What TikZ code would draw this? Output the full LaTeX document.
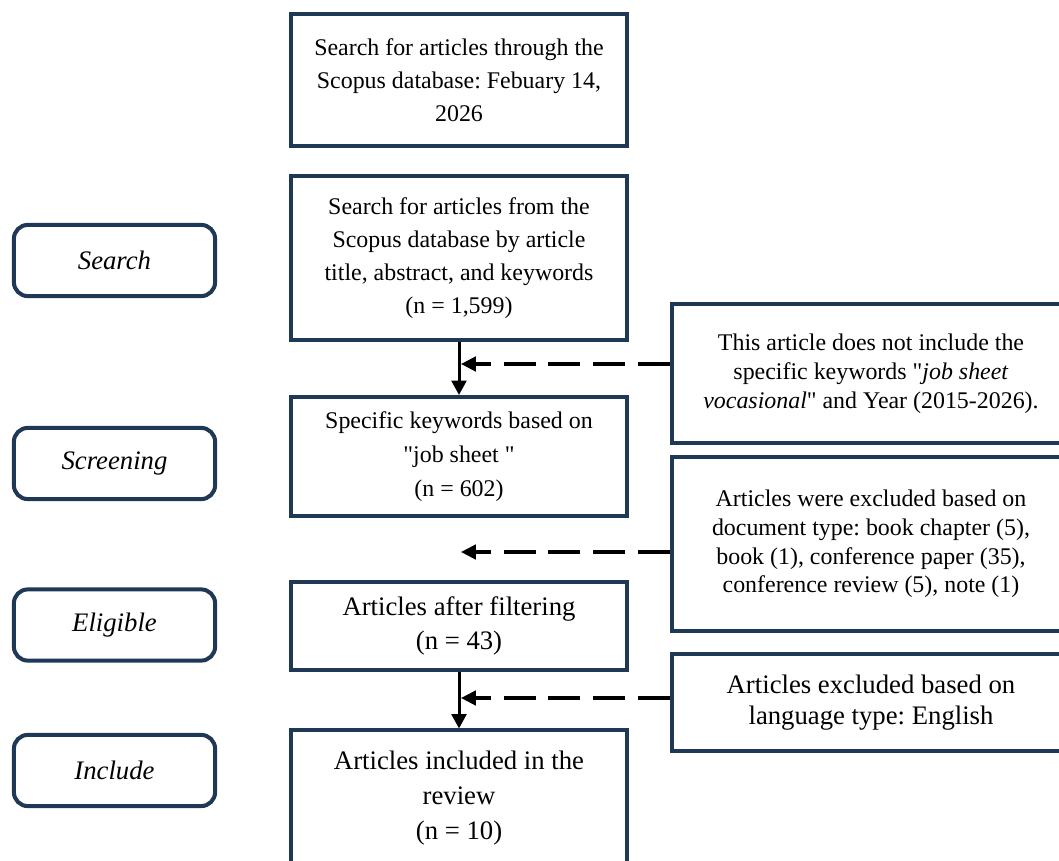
\documentclass[tikz,border=0pt]{standalone}
\usepackage{fontspec}
\setmainfont{Liberation Serif}
\usepackage{xcolor}
\usetikzlibrary{arrows.meta, positioning}
\definecolor{navy}{RGB}{31,56,86}
\frenchspacing
\tikzset{
  mainbox/.style={draw=navy, line width=0.1cm, fill=white,
                  minimum width=8.4cm, align=center,
                  font=\fontsize{17}{23.5}\selectfont},
  phase/.style={draw=navy, line width=0.1cm, fill=white, rounded corners=0.35cm,
                minimum width=5.03cm, minimum height=1.78cm, align=center,
                font=\fontsize{19}{24}\selectfont\itshape},
  note/.style={draw=navy, line width=0.1cm, fill=white,
               minimum width=9.95cm, align=center,
               font=\fontsize{17}{20.5}\selectfont},
  flow/.style={-{Triangle[length=0.36cm, width=0.37cm]}, line width=0.075cm},
  skip/.style={-{Triangle[length=0.37cm, width=0.36cm]}, line width=0.08cm,
               dash pattern=on 0.8cm off 0.32cm}
}

\begin{document}
\begin{tikzpicture}[x=0.025cm, y=-0.025cm]
  \useasboundingbox (0,0) rectangle (1059,861);
  \clip (0,0) rectangle (1059,861);

  % Phases
  \node[phase] (psearch) at (114.5,260.5) {Search};
  \node[phase] (pscreen) at (114.5,463.5) {Screening};
  \node[phase] (pelig) at (114.5,625) {Eligible};
  \node[phase] (pincl) at (114.5,770.5) {Include};

  % Main flow
  \node[mainbox, minimum height=3.3cm] (db) at (459,80)
    {Search for articles through the\\Scopus database: Febuary 14,\\2026};
  \node[mainbox, minimum height=4.1cm] (found) at (459,258)
    {Search for articles from the\\Scopus database by article\\title, abstract, and keywords\\(n = 1,599)};
  \node[mainbox, minimum height=2.975cm, font=\fontsize{17}{24}\selectfont] (kw) at (459,456.5)
    {Specific keywords based on\\\textquotedbl job sheet \textquotedbl\\(n = 602)};
  \node[mainbox, minimum height=2.2cm, font=\fontsize{19}{24.5}\selectfont] (filt) at (459,626)
    {Articles after filtering\\(n = 43)};
  \node[mainbox, minimum height=3.375cm, font=\fontsize{19}{25}\selectfont] (incl) at (459,798)
    {Articles included in the\\review\\(n = 10)};

  % Exclusions
  \node[note, minimum height=3.475cm] (exkw) at (871,373.5)
    {This article does not include the\\specific keywords \textquotedbl\textit{job sheet}\\\textit{vocasional}\textquotedbl{} and Year (2015-2026).};
  \node[note, minimum height=4.35cm] (exdoc) at (871,544)
    {Articles were excluded based on\\document type: book chapter (5),\\book (1), conference paper (35),\\conference review (5), note (1)};
  \node[note, minimum height=2.425cm, font=\fontsize{19}{21.5}\selectfont] (exlang) at (871,702.5)
    {Articles excluded based on\\language type: English};

  % Arrows
  \coordinate (j1) at (461,364);
  \coordinate (j2) at (461,552);
  \coordinate (j3) at (461,698);
  \draw[flow] (found.south) -- (kw.north);
  \draw[flow] (filt.south) -- (incl.north);
  \draw[skip] (exkw.west |- j1) -- (j1);
  \draw[skip] (exdoc.west |- j2) -- (j2);
  \draw[skip] (exlang.west |- j3) -- (j3);
\end{tikzpicture}
\end{document}
